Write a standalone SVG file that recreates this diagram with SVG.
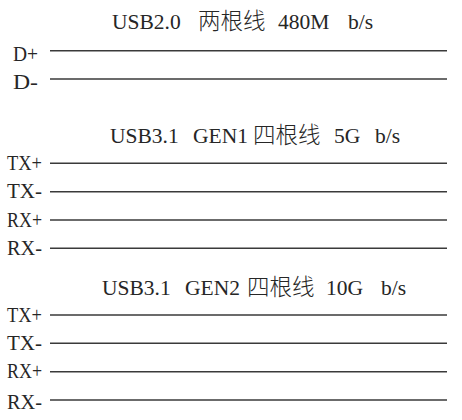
<svg xmlns="http://www.w3.org/2000/svg" width="462" height="420" viewBox="0 0 462 420">
<style>
text{font-family:"Liberation Serif","Noto Sans CJK SC",serif;font-size:21.5px;fill:#262626}
.cj{font-size:22.5px;font-weight:300}
.w{stroke:#3a3a3a;stroke-width:1.4;fill:none}
</style>
<rect width="462" height="420" fill="#fff"/>
<g id="usb20">
<text y="29"><tspan x="112">USB2.0</tspan> <tspan x="198" class="cj">两根线</tspan> <tspan x="278">480M</tspan> <tspan x="348">b/s</tspan></text>
<text x="13" y="61" textLength="25" lengthAdjust="spacingAndGlyphs">D+</text>
<text x="13" y="89" textLength="25" lengthAdjust="spacingAndGlyphs">D-</text>
</g>
<g id="gen1">
<text y="143"><tspan x="110">USB3.1</tspan> <tspan x="193">GEN1</tspan> <tspan x="253" class="cj">四根线</tspan> <tspan x="334">5G</tspan> <tspan x="375">b/s</tspan></text>
<text x="7" y="170" textLength="35" lengthAdjust="spacingAndGlyphs">TX+</text>
<text x="7" y="198" textLength="35" lengthAdjust="spacingAndGlyphs">TX-</text>
<text x="7" y="226.5" textLength="35" lengthAdjust="spacingAndGlyphs">RX+</text>
<text x="7" y="255" textLength="35" lengthAdjust="spacingAndGlyphs">RX-</text>
</g>
<g id="gen2">
<text y="295"><tspan x="102">USB3.1</tspan> <tspan x="185">GEN2</tspan> <tspan x="247" class="cj">四根线</tspan> <tspan x="326">10G</tspan> <tspan x="381">b/s</tspan></text>
<text x="7" y="322" textLength="35" lengthAdjust="spacingAndGlyphs">TX+</text>
<text x="7" y="350" textLength="35" lengthAdjust="spacingAndGlyphs">TX-</text>
<text x="7" y="378" textLength="35" lengthAdjust="spacingAndGlyphs">RX+</text>
<text x="7" y="409" textLength="35" lengthAdjust="spacingAndGlyphs">RX-</text>
</g>
<g id="wires">
<line class="w" x1="50" y1="50.7" x2="447" y2="50.7"/>
<line class="w" x1="50" y1="79" x2="447" y2="79"/>
<line class="w" x1="50" y1="163.3" x2="447" y2="163.3"/>
<line class="w" x1="50" y1="191.7" x2="447" y2="191.7"/>
<line class="w" x1="50" y1="220" x2="447" y2="220"/>
<line class="w" x1="50" y1="248.3" x2="447" y2="248.3"/>
<line class="w" x1="50" y1="315" x2="447" y2="315"/>
<line class="w" x1="50" y1="343.3" x2="447" y2="343.3"/>
<line class="w" x1="50" y1="371.7" x2="447" y2="371.7"/>
<line class="w" x1="50" y1="400" x2="447" y2="400"/>
</g>
</svg>
